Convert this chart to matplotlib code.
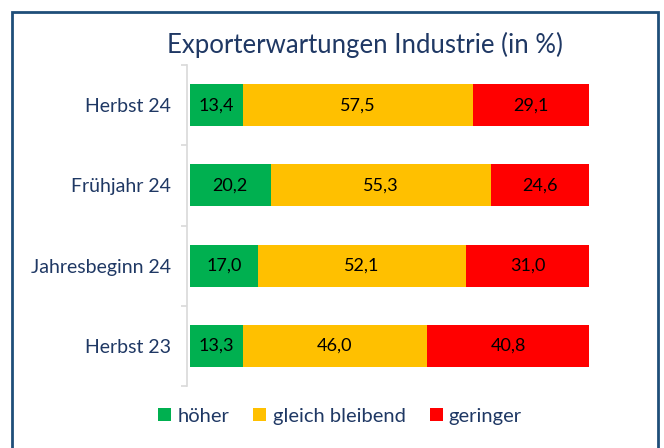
import matplotlib.pyplot as plt
from matplotlib.patches import Rectangle, Patch

plt.rcParams['font.family'] = ['Lato', 'DejaVu Sans']

categories = ["Herbst 24", "Frühjahr 24", "Jahresbeginn 24", "Herbst 23"]
series_names = ["höher", "gleich bleibend", "geringer"]
hoeher = [13.4, 20.2, 17.0, 13.3]
gleich = [57.5, 55.3, 52.1, 46.0]
geringer = [29.1, 24.6, 31.0, 40.8]
colors = ["#00B050", "#FFC000", "#FF0000"]
navy = "#1F3864"

fig = plt.figure(figsize=(6.64, 4.48), dpi=100)
ax = fig.add_axes([190 / 664, 1 - 386 / 448, 399 / 664, 321 / 448])

# outer frame, cut off at the bottom like the reference
fig.patches.append(Rectangle((12 / 664, -0.05), 646 / 664, 1.05 - 12 / 448,
                             transform=fig.transFigure, fill=False,
                             edgecolor="#1F4E79", linewidth=2))

# spine position first, it resets the ticks
for s in ["top", "right", "bottom"]:
    ax.spines[s].set_visible(False)
ax.spines["left"].set_position(("outward", 2))
ax.spines["left"].set_color("#D9D9D9")
ax.spines["left"].set_linewidth(1.2)

y = list(range(len(categories)))
left = [0] * len(categories)
for vals, col in zip([hoeher, gleich, geringer], colors):
    bars = ax.barh(y, vals, left=left, height=0.525, color=col, edgecolor="none")
    for b, v in zip(bars, vals):
        ax.text(b.get_x() + b.get_width() / 2, b.get_y() + b.get_height() / 2,
                f"{v:.1f}".replace(".", ","), ha="center", va="center",
                fontsize=13, color="black")
    left = [l + v for l, v in zip(left, vals)]

ax.set_xlim(0, 100)
ax.set_ylim(3.5, -0.5)
ax.set_yticks(y)
ax.set_yticklabels(categories, fontsize=14, color=navy)
ax.set_yticks([-0.5, 0.5, 1.5, 2.5, 3.5], minor=True)
ax.tick_params(axis="y", which="major", length=0, pad=12)
ax.tick_params(axis="y", which="minor", length=4, color="#D9D9D9", width=1.2)
ax.set_xticks([])

fig.text(365 / 664, 1 - 45 / 448, "Exporterwartungen Industrie (in %)",
         ha="center", va="center", fontsize=18.5, color=navy)

handles = [Patch(facecolor=c, edgecolor="none") for c in colors]
leg = fig.legend(handles, series_names, loc="center", ncol=3,
                 bbox_to_anchor=(340 / 664, 1 - 416 / 448), frameon=False,
                 fontsize=14.5, handlelength=0.65, handleheight=0.65,
                 handletextpad=0.3, columnspacing=1.2)
for t in leg.get_texts():
    t.set_color(navy)

fig.savefig("out.png", dpi=100)
